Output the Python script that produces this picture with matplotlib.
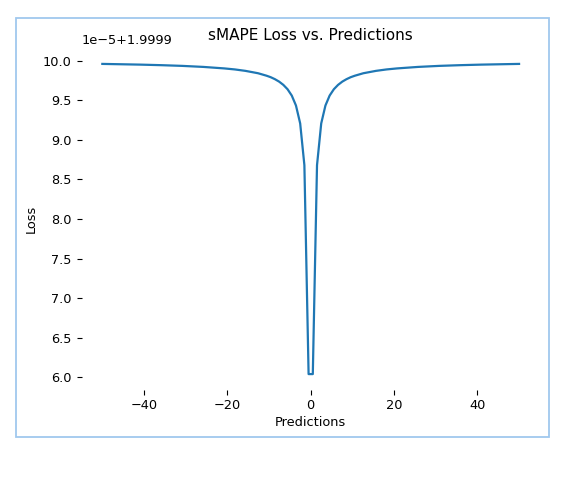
import numpy as np
import matplotlib
matplotlib.use('Agg')
import matplotlib.pyplot as plt
from matplotlib.patches import Rectangle

# predictions (x) and sMAPE loss, loss in units of 1e-5 above 1.9999
preds = [-50.0, -45.96, -40.909, -35.859, -30.808, -25.758, -20.707, -18.182,
         -15.657, -12.626, -10.606, -9.596, -8.586, -7.576, -6.566, -5.556,
         -4.545, -3.535, -2.525, -1.515, -0.505,
         0.505, 1.515, 2.525, 3.535, 4.545, 5.556, 6.566, 7.576, 8.586,
         9.596, 10.606, 12.626, 15.657, 18.182, 20.707, 25.758, 30.808,
         35.859, 40.909, 45.96, 50.0]
loss_off = [9.96, 9.956, 9.951, 9.944, 9.935, 9.922, 9.903, 9.89,
            9.872, 9.842, 9.811, 9.792, 9.767, 9.736, 9.695, 9.64,
            9.56, 9.434, 9.208, 8.68, 6.04,
            6.04, 8.68, 9.208, 9.434, 9.56, 9.64, 9.695, 9.736, 9.767,
            9.792, 9.811, 9.842, 9.872, 9.89, 9.903, 9.922, 9.935,
            9.944, 9.951, 9.956, 9.96]
loss = 1.9999 + np.array(loss_off) * 1e-5

plt.rcParams['font.size'] = 9.3

W, H = 577, 482
fig = plt.figure(figsize=(W/100, H/100), dpi=100)
ax = fig.add_axes([81.5/W, 1-389.6/H, (539.9-81.5)/W, (389.6-48.4)/H])

ax.plot(preds, loss, color='#1f77b4', lw=1.6)
ax.set_title('sMAPE Loss vs. Predictions', fontsize=11)
ax.set_xlabel('Predictions', labelpad=2.5)
ax.set_ylabel('Loss')
ax.set_yticks(1.9999 + np.arange(6.0, 10.01, 0.5) * 1e-5)

for s in ax.spines.values():
    s.set_visible(False)

# light blue frame around the whole figure
fig.patches.append(Rectangle((16/W, 1-437/H), (549-16)/W, (437-18)/H,
                             transform=fig.transFigure, fill=False,
                             edgecolor='#a0c8ee', lw=1.3))

fig.savefig('out.png', dpi=100)
